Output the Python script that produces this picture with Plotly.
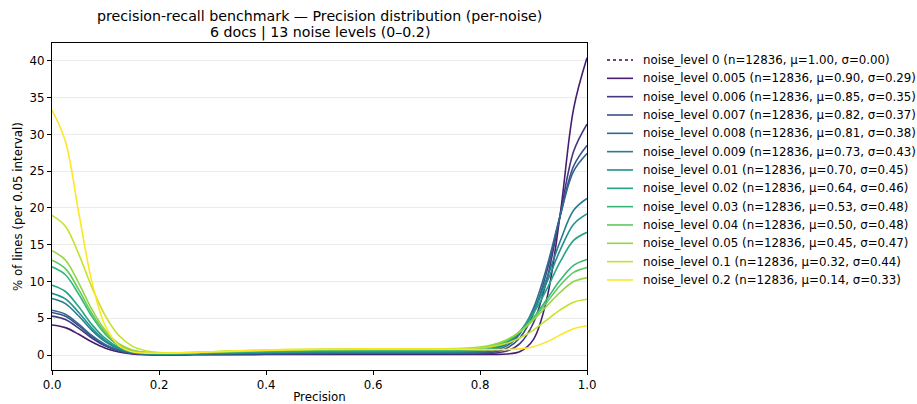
import plotly.graph_objects as go
from plotly.colors import sample_colorscale

# ---- data ----
precision = [0.0, 0.025, 0.05, 0.075, 0.1, 0.125, 0.15, 0.175, 0.2, 0.25, 0.3, 0.4, 0.5,
             0.6, 0.7, 0.75, 0.8, 0.825, 0.85, 0.875, 0.9, 0.925, 0.95, 0.975, 1.0]

noise_levels = ["0", "0.005", "0.006", "0.007", "0.008", "0.009", "0.01", "0.02",
                "0.03", "0.04", "0.05", "0.1", "0.2"]
n_lines = [12836] * 13
mu = [1.00, 0.90, 0.85, 0.82, 0.81, 0.73, 0.70, 0.64, 0.53, 0.50, 0.45, 0.32, 0.14]
sigma = [0.00, 0.29, 0.35, 0.37, 0.38, 0.43, 0.45, 0.46, 0.48, 0.48, 0.47, 0.44, 0.33]

pct_0 = []  # degenerate (sigma = 0): no density curve drawn
pct_0005 = [4.1, 3.74, 2.83, 1.78, 0.94, 0.42, 0.17, 0.07, 0.04, 0.04, 0.055, 0.08, 0.095,
            0.1, 0.1, 0.1, 0.1, 0.1, 0.15, 0.5, 2.15, 7.7, 19.2, 33.5, 40.4]
pct_0006 = [5.3, 4.83, 3.66, 2.29, 1.23, 0.56, 0.24, 0.11, 0.08, 0.08, 0.11, 0.16, 0.19,
            0.2, 0.2, 0.2, 0.21, 0.27, 0.55, 1.6, 4.4, 10.3, 19.1, 27.7, 31.4]
pct_0007 = [5.8, 5.28, 4.0, 2.51, 1.35, 0.62, 0.27, 0.13, 0.09, 0.1, 0.14, 0.2, 0.24,
            0.25, 0.25, 0.25, 0.28, 0.42, 0.93, 2.4, 5.65, 11.4, 18.95, 25.7, 28.5]
pct_0008 = [6.1, 5.56, 4.21, 2.64, 1.42, 0.66, 0.29, 0.15, 0.11, 0.12, 0.17, 0.24, 0.29,
            0.3, 0.3, 0.3, 0.38, 0.6, 1.25, 2.95, 6.4, 12.0, 19.0, 25.0, 27.4]
pct_0009 = [7.7, 7.01, 5.31, 3.33, 1.8, 0.83, 0.37, 0.2, 0.14, 0.16, 0.22, 0.32, 0.38,
            0.4, 0.4, 0.4, 0.5, 0.8, 1.5, 3.1, 6.1, 10.45, 15.5, 19.7, 21.3]
pct_001 = [8.4, 7.65, 5.8, 3.64, 1.97, 0.91, 0.41, 0.22, 0.16, 0.18, 0.25, 0.36, 0.43,
           0.45, 0.45, 0.46, 0.6, 0.9, 1.65, 3.25, 6.0, 9.9, 14.3, 17.8, 19.2]
pct_002 = [9.5, 8.65, 6.56, 4.11, 2.23, 1.04, 0.47, 0.26, 0.19, 0.22, 0.3, 0.44, 0.52,
           0.55, 0.55, 0.57, 0.7, 1.05, 1.8, 3.2, 5.7, 9.0, 12.7, 15.6, 16.7]
pct_003 = [12.0, 10.93, 8.28, 5.2, 2.82, 1.32, 0.6, 0.33, 0.25, 0.28, 0.39, 0.56, 0.67,
           0.7, 0.7, 0.73, 0.9, 1.25, 1.95, 3.2, 5.1, 7.6, 10.2, 12.2, 13.0]
pct_004 = [12.9, 11.75, 8.9, 5.59, 3.03, 1.41, 0.64, 0.35, 0.26, 0.3, 0.41, 0.6, 0.71,
           0.75, 0.75, 0.78, 1.0, 1.3, 2.0, 3.2, 5.0, 7.2, 9.5, 11.25, 11.9]
pct_005 = [14.2, 12.94, 9.8, 6.15, 3.33, 1.55, 0.7, 0.38, 0.28, 0.32, 0.44, 0.64, 0.76,
           0.8, 0.8, 0.84, 1.1, 1.45, 2.1, 3.2, 4.8, 6.7, 8.55, 10.0, 10.5]
pct_01 = [19.0, 17.52, 13.72, 9.14, 5.3, 2.66, 1.22, 0.6, 0.36, 0.34, 0.47, 0.68, 0.81,
          0.85, 0.85, 0.88, 1.0, 1.2, 1.6, 2.35, 3.4, 4.8, 6.15, 7.2, 7.6]
pct_02 = [33.3, 29.07, 19.35, 9.82, 3.9, 1.3, 0.46, 0.27, 0.26, 0.34, 0.47, 0.68, 0.81,
          0.85, 0.83, 0.8, 0.75, 0.75, 0.77, 0.85, 1.15, 1.8, 2.75, 3.6, 4.0]

series = [pct_0, pct_0005, pct_0006, pct_0007, pct_0008, pct_0009, pct_001, pct_002,
          pct_003, pct_004, pct_005, pct_01, pct_02]

y_ticks = [0, 5, 10, 15, 20, 25, 30, 35, 40]
x_ticks = [0.0, 0.2, 0.4, 0.6, 0.8, 1.0]

title_line1 = "precision-recall benchmark \u2014 Precision distribution (per-noise)"
title_line2 = "6 docs | 13 noise levels (0\u20130.2)"

colors = sample_colorscale("Viridis", [i / 12 for i in range(13)])

FONT = "DejaVu Sans"
FS = 11.8
W, H = 917, 404
L, R, T, B = 52, 587, 43, 370


def px_x(px):
    return (px - L) / (R - L)


def px_y(py):
    return (B - py) / (B - T)


fig = go.Figure()
for i, (lvl, ys) in enumerate(zip(noise_levels, series)):
    label = f"noise_level {lvl} (n={n_lines[i]}, \u03bc={mu[i]:.2f}, \u03c3={sigma[i]:.2f})"
    dash = "solid" if ys else "dot"
    if ys:
        fig.add_trace(go.Scatter(
            x=precision, y=ys, mode="lines", name=label, showlegend=False,
            line=dict(color=colors[i], width=1.6, shape="spline", smoothing=1.0),
        ))
    # legend entry (drawn by hand so row spacing matches)
    row_y = px_y(60 + 18.33 * i)
    fig.add_shape(type="line", xref="paper", yref="paper",
                  x0=px_x(607), x1=px_x(633), y0=row_y, y1=row_y,
                  line=dict(color=colors[i], width=1.6, dash=dash))
    fig.add_annotation(text=label, xref="paper", yref="paper", x=px_x(641), y=row_y,
                       xanchor="left", yanchor="middle", showarrow=False,
                       font=dict(size=FS))

axis_common = dict(
    showline=True, linecolor="black", linewidth=1, mirror=True,
    ticks="outside", ticklen=4, tickcolor="black", automargin=False,
    tickfont=dict(size=FS, color="black"), zeroline=False,
)
fig.update_xaxes(range=[0, 1], tickvals=x_ticks, ticktext=[f"{v:.1f}" for v in x_ticks],
                 showgrid=False, title=dict(text="Precision", font=dict(size=FS), standoff=10),
                 **axis_common)
fig.update_yaxes(range=[-2.02, 42.42], tickvals=y_ticks, showgrid=True,
                 gridcolor="#ebebeb", gridwidth=1,
                 title=dict(text="% of lines (per 0.05 interval)", font=dict(size=FS), standoff=4),
                 **axis_common)

fig.add_annotation(text=title_line1, xref="paper", yref="paper", x=0.5, y=px_y(16.3),
                   xanchor="center", yanchor="middle", showarrow=False, borderpad=0,
                   font=dict(size=14.2))
fig.add_annotation(text=title_line2, xref="paper", yref="paper", x=0.5, y=px_y(32.3),
                   xanchor="center", yanchor="middle", showarrow=False, borderpad=0,
                   font=dict(size=14.2))

fig.update_layout(
    width=W, height=H,
    margin=dict(l=L, r=W - R, t=T, b=H - B, autoexpand=False),
    paper_bgcolor="white", plot_bgcolor="white",
    font=dict(family=FONT, size=FS, color="black"),
    showlegend=False,
)

fig.write_html("out.html", config={"displayModeBar": False},
               post_script="document.body.style.margin='0';")
